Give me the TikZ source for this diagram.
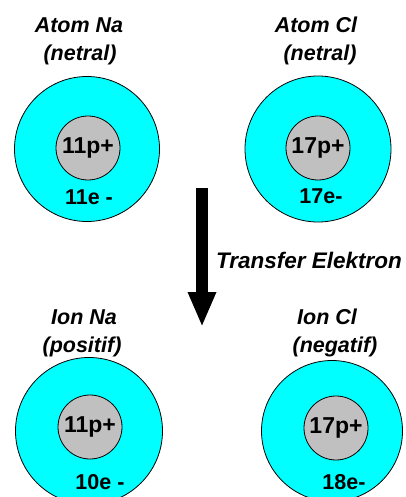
\documentclass[tikz,border=0pt]{standalone}
\usepackage{fontspec}
\setmainfont{Liberation Sans}
\usepackage{tikz}
\usetikzlibrary{arrows.meta,positioning}
\definecolor{shellcyan}{HTML}{00FFFF}
\definecolor{coregray}{HTML}{C0C0C0}

\begin{document}
\begin{tikzpicture}[x=1pt,y=-1pt,
  shell/.style={circle,draw=black,line width=.8pt,fill=shellcyan,inner sep=0pt},
  core/.style={circle,draw=black,line width=.8pt,fill=coregray,inner sep=0pt,
    minimum size=64pt,font=\fontsize{23}{25}\selectfont\bfseries},
  num/.style={font=\fontsize{21.5}{24}\selectfont\bfseries,inner sep=0pt},
  lbl/.style={font=\fontsize{21.5}{24}\selectfont\bfseries\itshape,inner sep=0pt}
]
  \useasboundingbox (0,0) rectangle (406,497);

  % atoms
  \node[shell,minimum size=145pt] (naatom) at (87,149) {};
  \node[core] (nacore) at (88,148) {11p+};
  \node[num] (naatome) at (89,197) {11e -};
  \node[lbl] (naatomlbl) at (79,25) {Atom Na};
  \node[lbl] (naatomsub) at (80,55) {(netral)};

  \node[shell,minimum size=146pt] (clatom) at (318,149) {};
  \node[core] (clcore) at (318,148) {17p+};
  \node[num] (clatome) at (321,196) {17e-};
  \node[lbl] (clatomlbl) at (316,25) {Atom Cl};
  \node[lbl] (clatomsub) at (320,55) {(netral)};

  % ions
  \node[shell,minimum size=147pt] (naion) at (89,431) {};
  \node[core] (naioncore) at (90,427) {11p+};
  \node[num] (naione) at (100,482) {10e -};
  \node[lbl] (naionlbl) at (84,317) {Ion Na};
  \node[lbl] (naionsub) at (82,347) {(positif)};

  \node[shell,minimum size=141pt] (clion) at (332,431) {};
  \node[core] (clioncore) at (336,428) {17p+};
  \node[num] (clione) at (344,482) {18e-};
  \node[lbl] (clionlbl) at (327,317) {Ion Cl};
  \node[lbl] (clionsub) at (335,347) {(negatif)};

  % transfer
  \coordinate (arrowtop) at (202,188);
  \coordinate (arrowtip) at (202,327);
  \draw[line width=12pt,-{Triangle[length=35pt,width=26pt]}] (arrowtop) -- (arrowtip);
  \node[lbl,font=\fontsize{22.5}{25}\selectfont\bfseries\itshape] (transfer) at (309,260) {Transfer Elektron};
\end{tikzpicture}
\end{document}
